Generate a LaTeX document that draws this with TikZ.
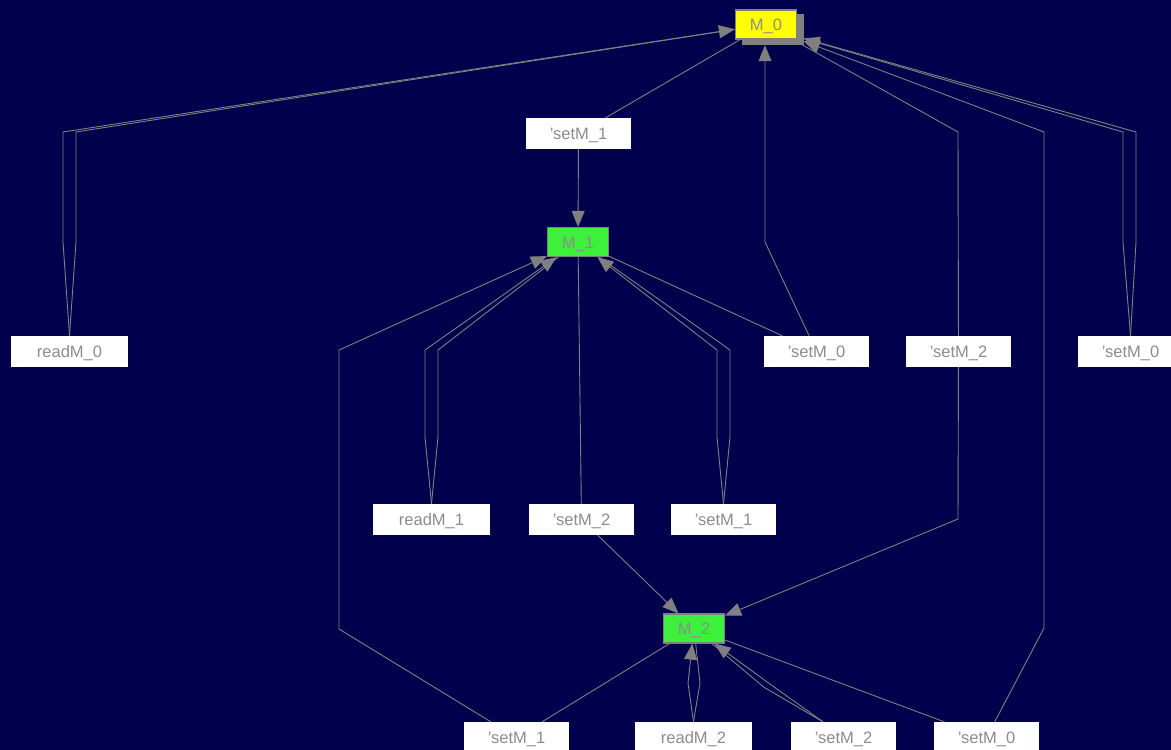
\documentclass[tikz,border=0pt]{standalone}
\usepackage{fontspec}
\setmainfont{Liberation Sans}
\usetikzlibrary{arrows.meta}
\definecolor{bgnavy}{HTML}{00004D}
\definecolor{edgegray}{HTML}{808080}
\definecolor{textgray}{HTML}{8C8C8C}
\definecolor{stategreen}{HTML}{3CF03C}
\definecolor{stateyellow}{HTML}{FFFF00}
\tikzset{
  lbl/.style={fill=white, minimum width=105pt, minimum height=31pt, inner sep=0pt,
    text height=12pt, text depth=0pt,
    text=textgray, font=\fontsize{16.5}{16.5}\selectfont},
  readlbl/.style={lbl, minimum width=117pt},
  state/.style={draw=edgegray, line width=1.2pt, fill=stategreen, minimum width=61pt,
    minimum height=29pt, inner sep=0pt, text height=12pt, text depth=0pt,
    text=textgray, font=\fontsize{16.5}{16.5}\selectfont},
  initstate/.style={state, fill=stateyellow},
  shadowbox/.style={fill=edgegray, minimum width=62pt, minimum height=31pt, inner sep=0pt},
  conn/.style={draw=edgegray, line width=0.9pt},
  arr/.style={conn, -{Triangle[length=16pt,width=13pt]}},
}
\begin{document}
\begin{tikzpicture}[x=1pt,y=-1pt]
\clip (0,0) rectangle (1171,750);
\fill[bgnavy] (0,0) rectangle (1171,750);

% states
\node[shadowbox] (m0shadow) at (772.5,29.5) {};
\node[initstate] (m0) at (766,24.5) {M\_0};
\node[state] (m1) at (578,242) {M\_1};
\node[state] (m2) at (694,628.5) {M\_2};

% transition labels
\node[lbl] (s1top) at (578.5,133.5) {'setM\_1};
\node[readlbl] (r0) at (69.5,351.5) {readM\_0};
\node[lbl] (s0mid) at (816.5,351.5) {'setM\_0};
\node[lbl] (s2right) at (958.5,351.5) {'setM\_2};
\node[lbl] (s0far) at (1130.5,351.5) {'setM\_0};
\node[readlbl] (r1) at (431.5,519.5) {readM\_1};
\node[lbl] (s2mid) at (581.5,519.5) {'setM\_2};
\node[lbl] (s1mr) at (723.5,519.5) {'setM\_1};
\node[lbl] (s1bot) at (516.5,737.5) {'setM\_1};
\node[readlbl] (r2) at (693.5,737.5) {readM\_2};
\node[lbl] (s2bot) at (843.5,737.5) {'setM\_2};
\node[lbl] (s0bot) at (986.5,737.5) {'setM\_0};

\coordinate (v0) at (765,242);

% readM_0 loop on M_0
\draw[arr] (r0.north) -- (63,242) -- (63,132) -- (m0);
\draw[conn] (r0.north) -- (76,242) -- (76,132) -- (m0);

% M_0 -> M_1
\draw[conn] (m0) -- (s1top);
\draw[arr] (s1top) -- (m1);

% M_1 -> M_2
\draw[conn] (m1) -- (s2mid);
\draw[arr] (s2mid) -- (m2);

% readM_1 loop on M_1
\draw[arr] (r1.north) -- (425,437) -- (425,350) -- (m1);
\draw[conn] (r1.north) -- (438,437) -- (438,350) -- (m1);

% setM_1 loop on M_1
\draw[arr] (s1mr.north) -- (717,437) -- (717,350) -- (m1);
\draw[conn] (s1mr.north) -- (730,437) -- (730,350) -- (m1);

% M_1 -> M_0
\draw[conn] (m1) -- (s0mid);
\draw[arr] (s0mid) -- (v0) -- (v0 |- m0shadow.south);

% M_0 -> M_2
\draw[conn] (s2right) -- (958,132) -- (m0);
\draw[arr] (s2right) -- (958,519) -- (m2);

% setM_0 loop on M_0
\draw[arr] (s0far.north) -- (1123,242) -- (1123,132) -- (m0shadow);
\draw[conn] (s0far.north) -- (1136,242) -- (1136,132) -- (m0shadow);

% M_2 -> M_1
\draw[conn] (m2) -- (s1bot);
\draw[arr] (s1bot) -- (339,629) -- (339,350) -- (m1);

% M_2 -> M_0
\draw[conn] (m2) -- (s0bot);
\draw[arr] (s0bot) -- (1044,628) -- (1044,132) -- (m0shadow);

% readM_2 loop on M_2
\draw[arr] (r2.north) -- (688,683) -- (m2);
\draw[conn] (r2.north) -- (700,683) -- (m2);

% setM_2 loop on M_2
\draw[arr] ([xshift=-20.5pt]s2bot.north) -- (767.75,682.45) -- (m2);
\draw[conn] ([xshift=-20.5pt]s2bot.north) -- (764.25,687.45) -- (m2);
\end{tikzpicture}
\end{document}
